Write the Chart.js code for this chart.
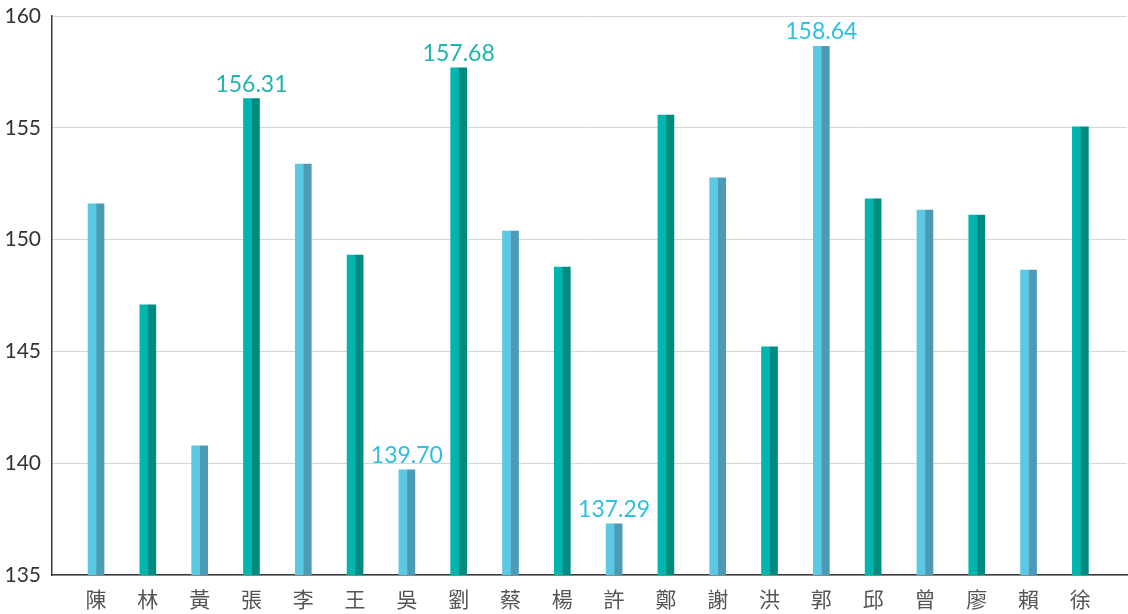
<!DOCTYPE html>
<html>
<head>
<meta charset="utf-8">
<script src="https://cdn.jsdelivr.net/npm/chart.js@4/dist/chart.umd.min.js"></script>
<style>
  html, body { margin: 0; padding: 0; background: #fff; }
  #wrap { width: 1128px; height: 614px; }
</style>
</head>
<body>
<div id="wrap"><canvas id="chart"></canvas></div>
<script>
// surnames along the x axis
const names = ["陳", "林", "黃", "張", "李", "王", "吳", "劉", "蔡", "楊",
               "許", "鄭", "謝", "洪", "郭", "邱", "曾", "廖", "賴", "徐"];
// values
const values = [151.6, 147.08, 140.78, 156.31, 153.38, 149.31, 139.70, 157.68, 150.38, 148.77,
                137.29, 155.57, 152.76, 145.2, 158.64, 151.82, 151.32, 151.1, 148.64, 155.04];
// bars that carry a value label (top 3 and bottom 2)
const labelled = ["張", "吳", "劉", "許", "郭"];
const yTicks = [135, 140, 145, 150, 155, 160];

// alternating palette: light blue / teal, each bar split in a light and a dark half
const lightHalf = ["#5bc8e4", "#00b5ad"];
const darkHalf = ["#4a9bb3", "#008b81"];
const labelColor = ["#2fbfe2", "#1fb5aa"];

const pts = values.map((v, i) => ({ x: i, y: v }));

const valueLabels = {
  id: "valueLabels",
  afterDatasetsDraw(chart) {
    const ctx = chart.ctx;
    const xs = chart.scales.x, ys = chart.scales.y;
    ctx.save();
    ctx.font = "23px Lato";
    ctx.textAlign = "center";
    ctx.textBaseline = "alphabetic";
    names.forEach((n, i) => {
      if (!labelled.includes(n)) return;
      ctx.fillStyle = labelColor[i % 2];
      ctx.fillText(values[i].toFixed(2), xs.getPixelForValue(i), ys.getPixelForValue(values[i]) - 7);
    });
    ctx.restore();
  }
};

new Chart(document.getElementById("chart"), {
  type: "bar",
  data: {
    datasets: [
      {
        data: pts,
        backgroundColor: names.map((_, i) => lightHalf[i % 2]),
        barThickness: 8
      },
      {
        data: pts,
        backgroundColor: names.map((_, i) => darkHalf[i % 2]),
        barThickness: 8
      }
    ]
  },
  options: {
    responsive: true,
    maintainAspectRatio: false,
    animation: false,
    layout: { padding: { top: 16, right: 1, left: 0, bottom: 0 } },
    plugins: {
      legend: { display: false },
      tooltip: { enabled: false }
    },
    scales: {
      x: {
        type: "linear",
        offset: false,
        min: -0.85,
        max: 19.9,
        grid: { display: false, drawTicks: false },
        border: { color: "#3a3a3a", width: 1.5 },
        afterFit: (s) => { s.height = 39; s.paddingLeft = 0; s.paddingRight = 0; },
        ticks: {
          stepSize: 1,
          includeBounds: false,
          autoSkip: false,
          maxRotation: 0,
          padding: 11,
          color: "#555",
          font: { family: "'Noto Sans CJK TC'", size: 21 },
          callback: (v) => names[v] ?? ""
        }
      },
      y: {
        min: 135,
        max: 160,
        grid: { color: "#d6d6d6", lineWidth: 1, drawTicks: false },
        border: { color: "#3a3a3a", width: 1.5 },
        afterFit: (s) => { s.width = 52; s.paddingTop = 0; s.paddingBottom = 0; },
        afterBuildTicks: (s) => { s.ticks = yTicks.map(v => ({ value: v })); },
        ticks: {
          padding: 11,
          color: "#333",
          font: { family: "Lato", size: 21 }
        }
      }
    }
  },
  plugins: [valueLabels]
});
</script>
</body>
</html>
